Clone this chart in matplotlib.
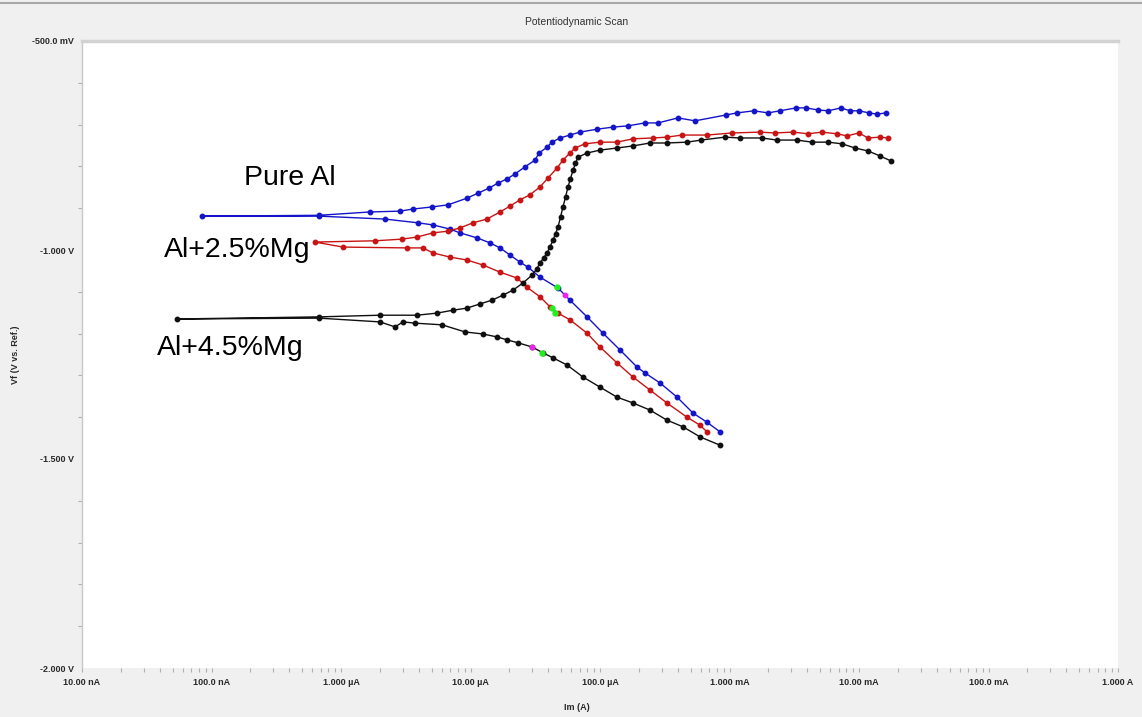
import matplotlib
matplotlib.use('Agg')
import matplotlib.pyplot as plt
import matplotlib.ticker as mtick
from matplotlib.lines import Line2D
import numpy as np

# scan data: log10(|Im| / A) and Vf (V), in scan order
# (cathodic branch -> corrosion potential -> anodic branch)
pure_al_logi = [-3.073, -3.174, -3.282, -3.405, -3.537, -3.653, -3.714, -3.846, -3.977, -4.100,
                -4.232, -4.324, -4.463, -4.556, -4.618, -4.695, -4.772, -4.849, -4.950, -5.081,
                -5.158, -5.290, -5.405, -5.660, -6.170, -7.073,
                -6.170, -5.776, -5.544, -5.444, -5.297, -5.174, -5.027, -4.942, -4.857, -4.788,
                -4.718, -4.656, -4.579, -4.502, -4.471, -4.409, -4.371, -4.309, -4.232, -4.154,
                -4.023, -3.900, -3.784, -3.653, -3.552, -3.398, -3.266, -3.027, -2.942, -2.811,
                -2.703, -2.610, -2.486, -2.409, -2.317, -2.239, -2.139, -2.069, -2.000, -1.923,
                -1.861, -1.792]
pure_al_v = [-1.435, -1.412, -1.390, -1.352, -1.318, -1.294, -1.280, -1.239, -1.199, -1.160,
             -1.120, -1.091, -1.065, -1.041, -1.029, -1.012, -0.995, -0.983, -0.971, -0.959,
             -0.950, -0.940, -0.935, -0.926, -0.919, -0.919,
             -0.917, -0.909, -0.907, -0.902, -0.897, -0.892, -0.876, -0.864, -0.852, -0.840,
             -0.830, -0.818, -0.801, -0.785, -0.768, -0.754, -0.742, -0.732, -0.725, -0.718,
             -0.711, -0.706, -0.703, -0.696, -0.696, -0.684, -0.691, -0.677, -0.672, -0.667,
             -0.672, -0.667, -0.660, -0.660, -0.665, -0.667, -0.660, -0.667, -0.667, -0.672,
             -0.675, -0.672]

mg25_logi = [-3.174, -3.228, -3.328, -3.483, -3.614, -3.745, -3.869, -4.000, -4.100, -4.232,
             -4.324, -4.386, -4.463, -4.564, -4.641, -4.772, -4.903, -5.027, -5.158, -5.290,
             -5.367, -5.490, -5.985, -6.201,
             -5.737, -5.529, -5.413, -5.290, -5.174, -5.081, -4.981, -4.873, -4.772, -4.695,
             -4.618, -4.541, -4.463, -4.402, -4.332, -4.286, -4.232, -4.193, -4.116, -4.000,
             -3.869, -3.745, -3.591, -3.483, -3.367, -3.174, -2.981, -2.764, -2.649, -2.510,
             -2.394, -2.286, -2.170, -2.093, -2.000, -1.931, -1.838, -1.776]
mg25_v = [-1.435, -1.419, -1.400, -1.366, -1.335, -1.304, -1.270, -1.232, -1.199, -1.167,
          -1.151, -1.136, -1.112, -1.089, -1.067, -1.053, -1.036, -1.024, -1.017, -1.007,
          -0.995, -0.995, -0.993, -0.981,
          -0.978, -0.974, -0.969, -0.959, -0.955, -0.947, -0.935, -0.926, -0.909, -0.895,
          -0.880, -0.868, -0.849, -0.828, -0.804, -0.785, -0.768, -0.756, -0.746, -0.742,
          -0.742, -0.734, -0.732, -0.730, -0.725, -0.725, -0.720, -0.718, -0.720, -0.718,
          -0.722, -0.718, -0.722, -0.727, -0.720, -0.732, -0.730, -0.732]

mg45_logi = [-3.073, -3.228, -3.359, -3.483, -3.614, -3.745, -3.869, -4.000, -4.131, -4.255,
             -4.363, -4.440, -4.525, -4.633, -4.718, -4.795, -4.903, -5.042, -5.220, -5.429,
             -5.521, -5.583, -5.699, -6.170, -7.266,
             -6.170, -5.699, -5.413, -5.259, -5.135, -5.027, -4.927, -4.834, -4.749, -4.672,
             -4.595, -4.525, -4.490, -4.463, -4.435, -4.409, -4.385, -4.363, -4.343, -4.324,
             -4.305, -4.286, -4.266, -4.247, -4.228, -4.208, -4.190, -4.170, -4.100, -4.000,
             -3.869, -3.745, -3.614, -3.483, -3.328, -3.220, -3.035, -2.919, -2.749, -2.633,
             -2.479, -2.363, -2.239, -2.131, -2.031, -1.931, -1.838, -1.753]
mg45_v = [-1.467, -1.447, -1.423, -1.407, -1.383, -1.366, -1.352, -1.328, -1.304, -1.275,
          -1.258, -1.246, -1.232, -1.222, -1.215, -1.208, -1.201, -1.196, -1.179, -1.175,
          -1.172, -1.184, -1.172, -1.163, -1.165,
          -1.160, -1.156, -1.156, -1.151, -1.144, -1.139, -1.129, -1.120, -1.108, -1.096,
          -1.079, -1.060, -1.046, -1.031, -1.019, -1.007, -0.992, -0.976, -0.961, -0.945,
          -0.921, -0.897, -0.873, -0.849, -0.829, -0.809, -0.793, -0.778, -0.768, -0.761,
          -0.756, -0.751, -0.744, -0.744, -0.742, -0.737, -0.730, -0.732, -0.732, -0.737,
          -0.737, -0.742, -0.742, -0.746, -0.756, -0.763, -0.775, -0.787]

# Tafel fit region markers (green / magenta)
green_logi = [-4.332, -4.371, -4.347, -4.448]
green_v = [-1.089, -1.139, -1.151, -1.246]
magenta_logi = [-4.270, -4.525]
magenta_v = [-1.108, -1.232]

x_tick_vals = [1e-8, 1e-7, 1e-6, 1e-5, 1e-4, 1e-3, 1e-2, 1e-1, 1e0]
x_tick_labels = ['10.00 nA', '100.0 nA', '1.000 µA', '10.00 µA', '100.0 µA',
                 '1.000 mA', '10.00 mA', '100.0 mA', '1.000 A']
y_tick_vals = [-2.0, -1.5, -1.0, -0.5]
y_tick_labels = ['-2.000 V', '-1.500 V', '-1.000 V', '-500.0 mV']

plt.rcParams['font.family'] = ['Liberation Sans', 'DejaVu Sans']

fig = plt.figure(figsize=(11.42, 7.17), dpi=100, facecolor='#f0f0f0')
ax = fig.add_axes([82 / 1142, 1 - 668 / 717, (1118 - 82) / 1142, (668 - 41) / 717])
ax.set_facecolor('white')

series = [
    (pure_al_logi, pure_al_v, '#1414c8'),
    (mg25_logi, mg25_v, '#c81414'),
    (mg45_logi, mg45_v, '#101010'),
]
for logi, v, col in series:
    ax.plot(10 ** np.array(logi), v, color=col, lw=1.0, marker='o', ms=3.2,
            mec=col, mfc=col)

ax.plot(10 ** np.array(green_logi), green_v, ls='none', marker='o', ms=3.6, color='#22ee22')
ax.plot(10 ** np.array(magenta_logi), magenta_v, ls='none', marker='o', ms=3.2, color='#ee22ee')

ax.set_xscale('log')
ax.set_xlim(1e-8, 1e0)
ax.set_ylim(-2.0, -0.5)

ax.xaxis.set_major_locator(mtick.FixedLocator(x_tick_vals))
ax.xaxis.set_major_formatter(mtick.FixedFormatter(x_tick_labels))
ax.xaxis.set_minor_locator(mtick.LogLocator(base=10, subs=np.arange(2, 10), numticks=20))
ax.xaxis.set_minor_formatter(mtick.NullFormatter())
ax.yaxis.set_major_locator(mtick.FixedLocator(y_tick_vals))
ax.yaxis.set_major_formatter(mtick.FixedFormatter(y_tick_labels))
ax.yaxis.set_minor_locator(mtick.MultipleLocator(0.1))

ax.tick_params(which='both', direction='out', color='#b0b0b0', length=3, width=0.8,
               labelsize=6.5, labelcolor='#2a2a2a', pad=4)
ax.tick_params(axis='y', which='major', length=0, pad=6)
for lab in ax.get_xticklabels() + ax.get_yticklabels():
    lab.set_fontweight('bold')

ax.spines['right'].set_visible(False)
ax.spines['bottom'].set_visible(False)
ax.spines['left'].set_color('#c8c8c8')
ax.spines['left'].set_linewidth(1.0)
ax.spines['top'].set_color('#d2d2d2')
ax.spines['top'].set_linewidth(2.5)

# series labels
ax.text(10 ** -6.394, -0.828, 'Pure Al', fontsize=20.5, ha='center', va='center', color='black')
ax.text(10 ** -6.803, -1.000, 'Al+2.5%Mg', fontsize=20.5, ha='center', va='center', color='black')
ax.text(10 ** -6.857, -1.234, 'Al+4.5%Mg', fontsize=20.5, ha='center', va='center', color='black')

fig.text(577 / 1142, 1 - 22 / 717, 'Potentiodynamic Scan', fontsize=7.5, ha='center',
         va='center', color='#333333')
fig.text(577 / 1142, 1 - 708 / 717, 'Im (A)', fontsize=6.5, fontweight='bold',
         ha='center', va='center', color='#2a2a2a')
fig.text(15 / 1142, 1 - 355 / 717, 'Vf (V vs. Ref.)', fontsize=6.5, fontweight='bold',
         rotation=90, ha='center', va='center', color='#2a2a2a')

fig.add_artist(Line2D([0, 1], [1 - 3 / 717, 1 - 3 / 717], color='#a8a8a8', lw=1.5))

fig.savefig('out.png', dpi=100, facecolor=fig.get_facecolor())
